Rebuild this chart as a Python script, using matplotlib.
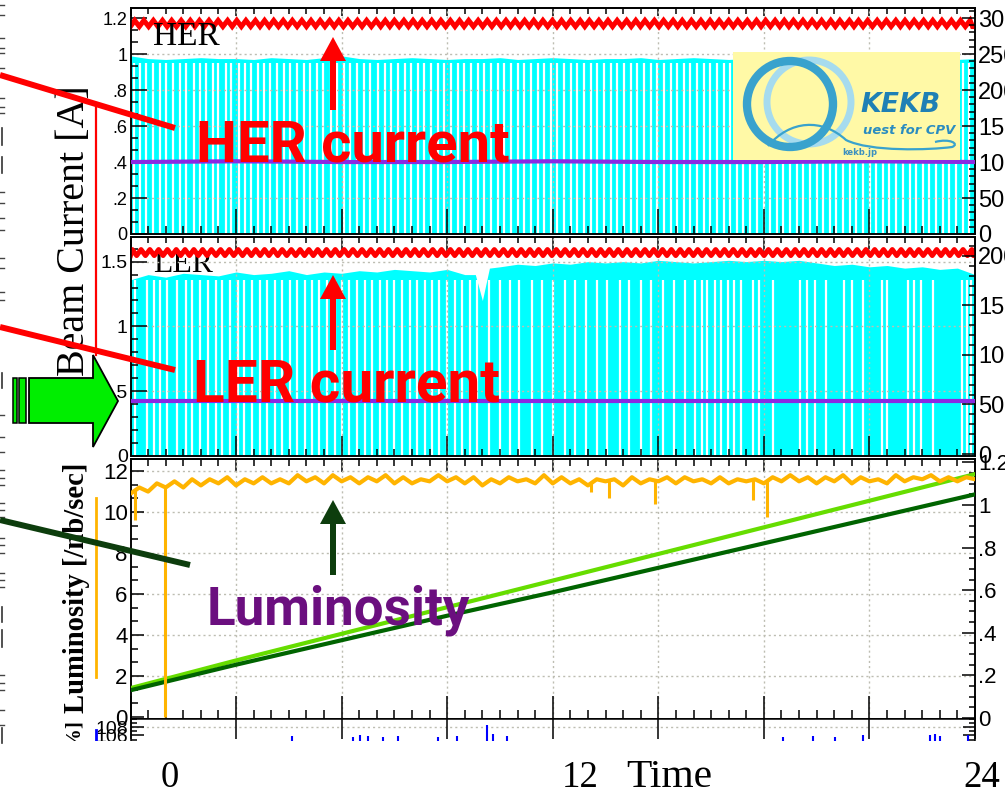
import numpy as np
import matplotlib
matplotlib.use("Agg")
import matplotlib.pyplot as plt
import matplotlib.patches as mpatches
from matplotlib.path import Path
from matplotlib.ticker import MultipleLocator, NullLocator

# ---------------- data (time axis in hours) ----------------
# HER / LER stored current: top-up injection times and band levels [A]
her_inj = [0.12, 0.38, 0.65, 0.91, 1.17, 1.44, 1.70, 1.96, 2.23, 2.49, 2.76, 3.02, 3.28, 3.55,
           3.81, 4.07, 4.34, 4.60, 4.87, 5.13, 5.39, 5.66, 5.92, 6.18, 6.45, 6.71, 6.98, 7.24,
           7.50, 7.77, 8.03, 8.29, 8.56, 8.82, 9.09, 9.35, 9.61, 9.88, 10.14, 10.40, 10.67,
           10.93, 11.20, 11.46, 11.72, 11.99, 12.25, 12.51, 12.78, 13.04, 13.31, 13.57, 13.83,
           14.10, 14.36, 14.62, 14.89, 15.15, 15.42, 15.68, 15.94, 16.21, 16.47, 16.73, 17.00,
           17.26, 17.53, 17.79, 18.05, 18.32, 18.58, 18.84, 19.11, 19.37, 19.64, 19.90, 20.16,
           20.43, 20.69, 20.95, 21.22, 21.48, 21.75, 22.01, 22.27, 22.54, 22.80, 23.06, 23.33,
           23.59, 23.86]
her_peak, her_low = 1.187, 1.153

ler_inj = [0.05, 0.30, 0.55, 0.80, 1.05, 1.30, 1.55, 1.80, 2.05, 2.30, 2.56, 2.81, 3.06, 3.31,
           3.56, 3.81, 4.06, 4.31, 4.57, 4.82, 5.07, 5.32, 5.57, 5.82, 6.07, 6.32, 6.58, 6.83,
           7.08, 7.33, 7.58, 7.83, 8.08, 8.33, 8.59, 8.84, 9.09, 9.34, 9.59, 9.84, 10.09, 10.34,
           10.60, 10.85, 11.10, 11.35, 11.60, 11.85, 12.10, 12.35, 12.61, 12.86, 13.11, 13.36,
           13.61, 13.86, 14.11, 14.36, 14.62, 14.87, 15.12, 15.37, 15.62, 15.87, 16.12, 16.37,
           16.63, 16.88, 17.13, 17.38, 17.63, 17.88, 18.13, 18.38, 18.64, 18.89, 19.14, 19.39,
           19.64, 19.89, 20.14, 20.39, 20.65, 20.90, 21.15, 21.40, 21.65, 21.90, 22.15, 22.40,
           22.66, 22.91, 23.16, 23.41, 23.66, 23.91]
ler_peak, ler_low = 1.593, 1.547

# cyan trace: upper envelope every half hour, and the dropouts (white gaps)
trace_step = 0.5
her_top = [0.99, 0.975, 0.97, 0.975, 0.98, 0.975, 0.975, 0.97, 0.98, 0.975, 0.97, 0.98, 0.99,
           0.975, 0.97, 0.975, 0.98, 0.975, 0.97, 0.975, 0.975, 0.98, 0.97, 0.975, 0.98, 0.975,
           0.97, 0.975, 0.975, 0.98, 0.97, 0.975, 0.98, 0.975, 0.97, 0.975, 0.975, 0.98, 0.975,
           0.97, 0.975, 0.98, 0.975, 0.97, 0.975, 0.98, 0.975, 0.97, 0.975]
her_gaps = [0.10, 0.28, 0.45, 0.64, 0.83, 1.01, 1.20, 1.41, 1.59, 1.80, 1.98, 2.15, 2.34, 2.49,
            2.70, 2.87, 3.07, 3.26, 3.43, 3.61, 3.80, 3.97, 4.16, 4.35, 4.54, 4.72, 4.94, 5.10,
            5.29, 5.48, 5.69, 5.88, 6.07, 6.25, 6.44, 6.63, 6.82, 7.03, 7.22, 7.41, 7.61, 7.79,
            7.98, 8.17, 8.35, 8.55, 8.73, 8.92, 9.12, 9.30, 9.49, 9.68, 9.87, 10.05, 10.25,
            10.43, 10.62, 10.81, 11.00, 11.19, 11.38, 11.57, 11.75, 11.95, 12.13, 12.32, 12.51,
            12.70, 12.89, 13.08, 13.27, 13.45, 13.65, 13.83, 14.02, 14.21, 14.40, 14.59, 14.78,
            14.97, 15.15, 15.35, 15.53, 15.72, 15.91, 16.10, 16.29, 16.48, 16.66, 16.86, 17.04,
            17.23, 17.42, 17.61, 17.80, 17.99, 18.17, 18.37, 18.55, 18.74, 18.93, 19.12, 19.31,
            19.50, 19.68, 19.88, 20.06, 20.25, 20.44, 20.63, 20.82, 21.01, 21.19, 21.39, 21.57,
            21.76, 21.95, 22.14, 22.33, 22.52, 22.70, 22.90, 23.08, 23.27, 23.46, 23.65, 23.84]
her_gap_top = 0.95

ler_top = [1.36, 1.40, 1.38, 1.41, 1.40, 1.39, 1.42, 1.40, 1.41, 1.43, 1.40, 1.42, 1.41, 1.43,
           1.42, 1.44, 1.43, 1.42, 1.44, 1.40, 1.20, 1.46, 1.48, 1.47, 1.49, 1.48, 1.50, 1.49,
           1.50, 1.49, 1.51, 1.50, 1.49, 1.50, 1.51, 1.50, 1.51, 1.50, 1.51, 1.49, 1.47, 1.48,
           1.46, 1.47, 1.45, 1.46, 1.44, 1.45, 1.40]
ler_notch_t = [9.8, 10.2]
ler_notch_v = [1.40, 1.45]
ler_gaps = [0.13, 0.47, 0.67, 0.84, 1.03, 1.32, 1.58, 1.76, 1.98, 2.20, 2.42, 2.60, 2.83, 3.05,
            3.22, 3.46, 3.68, 3.87, 4.10, 4.31, 4.52, 4.73, 4.95, 5.15, 5.37, 5.58, 5.80, 6.02,
            6.21, 6.45, 6.66, 6.86, 7.08, 7.30, 7.50, 7.72, 7.93, 8.15, 8.36, 8.57, 8.78, 9.00,
            9.21, 9.43, 9.65, 9.86, 10.20, 10.50, 10.78, 11.05, 11.40, 11.70, 12.00, 12.35,
            12.62, 12.95, 13.25, 13.55, 13.90, 14.18, 14.50, 14.80, 15.12, 15.45, 15.75, 16.05,
            16.24, 16.38, 16.61, 16.78, 16.98, 17.15, 17.35, 17.69, 17.86, 18.25, 19.02, 19.22,
            19.45, 19.76, 20.27, 20.50, 20.81, 21.35, 21.49, 22.09, 22.26, 22.46, 22.80, 23.62,
            23.76, 23.90]
ler_gap_top = 1.36

# purple trace (right-hand scale)
aux_t = [0, 3, 6, 9, 12, 15, 18, 21, 24]
her_aux = [100, 101, 100, 100, 101, 100, 100, 101, 100]
ler_aux = [53, 53, 53, 53, 53, 53, 53, 53, 53]

# luminosity [/nb/sec], every quarter hour, plus short dips
lumi_step = 0.25
lumi = [10.9, 11.2, 11.0, 11.4, 11.2, 11.5, 11.2, 11.6, 11.3, 11.6,
        11.4, 11.7, 11.3, 11.6, 11.4, 11.7, 11.4, 11.6, 11.4, 11.8,
        11.5, 11.7, 11.4, 11.8, 11.5, 11.7, 11.4, 11.7, 11.5, 11.8,
        11.4, 11.7, 11.4, 11.6, 11.5, 11.8, 11.5, 11.7, 11.4, 11.7,
        11.3, 11.6, 11.4, 11.7, 11.5, 11.6, 11.4, 11.8, 11.4, 11.7,
        11.4, 11.6, 11.3, 11.6, 11.5, 11.6, 11.3, 11.7, 11.4, 11.6,
        11.5, 11.7, 11.4, 11.7, 11.5, 11.6, 11.4, 11.7, 11.4, 11.6,
        11.5, 11.6, 11.4, 11.7, 11.5, 11.8, 11.5, 11.7, 11.4, 11.7,
        11.5, 11.8, 11.4, 11.7, 11.5, 11.6, 11.4, 11.8, 11.5, 11.7,
        11.6, 11.8, 11.5, 11.7, 11.5, 11.7, 11.6]
lumi_dip_t = [0.14, 0.98, 13.1, 13.6, 14.9, 17.7, 18.1]
lumi_dip_v = [9.6, 0.0, 11.0, 10.7, 10.4, 10.6, 9.75]

# integrated luminosity (right-hand scale)
int_t = [0, 3, 6, 9, 12, 15, 18, 21, 24]
int_delivered = [0.14, 0.27, 0.395, 0.52, 0.645, 0.77, 0.895, 1.02, 1.145]
int_recorded = [0.13, 0.25, 0.365, 0.48, 0.59, 0.705, 0.82, 0.935, 1.05]

# bottom strip: blue spikes
loss_t = [4.59, 6.33, 6.53, 6.75, 7.17, 7.60, 8.74, 9.28, 10.13, 10.30, 10.70, 18.54, 19.39,
          20.02, 20.81, 22.71, 22.86, 23.00, 23.79]
loss_v = [105.8, 105.6, 106.2, 105.8, 105.6, 105.9, 105.6, 105.9, 108.5, 106.3, 105.8, 105.6,
          105.9, 105.7, 106.0, 106.2, 106.3, 105.9, 106.0]

time_labels = ["0", "12", "24"]

# ---------------- figure ----------------
W, H = 1005, 793
plt.rcParams["font.family"] = ["Liberation Sans", "DejaVu Sans"]
fig = plt.figure(figsize=(W / 100, H / 100), dpi=100)
fig.patch.set_facecolor("white")

SANS = ["Liberation Sans", "DejaVu Sans"]
NARROW = ["Liberation Sans Narrow", "Liberation Sans", "DejaVu Sans"]
SERIF = ["Liberation Serif", "DejaVu Serif"]
GRID = "#bdbdb2"
LW = 1.1


def frame(l, t, r, b):
    return [l / W, 1 - b / H, (r - l) / W, (b - t) / H]


def zigzag(inj, peak, low):
    xs, ys = [0.0], [low]
    for i, t in enumerate(inj):
        xs.append(t)
        ys.append(peak)
        nxt = inj[i + 1] if i + 1 < len(inj) else 24.0
        xs.append(0.5 * (t + nxt))
        ys.append(low)
    xs.append(24.0)
    ys.append(low)
    return xs, ys


def setup_x(ax, bottom, top):
    ax.set_axisbelow(False)
    ax.set_xlim(0, 24)
    ax.xaxis.set_major_locator(MultipleLocator(3))
    ax.xaxis.set_minor_locator(MultipleLocator(0.5))
    if bottom:
        ax.tick_params(axis="x", which="major", direction="in", bottom=True, top=False,
                       length=bottom[0], width=LW, labelbottom=False)
        ax.tick_params(axis="x", which="minor", direction="in", bottom=True, top=False,
                       length=bottom[1], width=LW)
    else:
        ax.tick_params(axis="x", which="both", bottom=False, top=False, labelbottom=False)
    if top:
        sec = ax.secondary_xaxis("top")
        sec.xaxis.set_major_locator(MultipleLocator(3))
        if top[1]:
            sec.xaxis.set_minor_locator(MultipleLocator(0.5))
        else:
            sec.xaxis.set_minor_locator(NullLocator())
        sec.tick_params(axis="x", which="major", direction="in", length=top[0], width=LW,
                        labeltop=False)
        sec.tick_params(axis="x", which="minor", direction="in", length=top[1], width=LW)
        for s in sec.spines.values():
            s.set_linewidth(LW)


def setup_y(ax, lim, ticks, labels, minor, size, family, lens, side):
    ax.set_axisbelow(False)
    ax.set_ylim(*lim)
    ax.set_yticks(ticks, labels=labels, fontsize=size, fontfamily=family)
    ax.yaxis.set_minor_locator(MultipleLocator(minor))
    left = side == "left"
    ax.tick_params(axis="y", which="both", direction="in", left=left, right=not left,
                   labelleft=left, labelright=not left, width=LW, pad=2)
    ax.tick_params(axis="y", which="major", length=lens[0])
    ax.tick_params(axis="y", which="minor", length=lens[1])


def grid(ax, ys):
    for y in ys:
        ax.axhline(y, color=GRID, lw=1.0, ls=(0, (1.5, 2.2)), zorder=2)
    for x in [3, 6, 9, 12, 15, 18, 21]:
        ax.axvline(x, color=GRID, lw=1.0, ls=(0, (1.5, 2.2)), zorder=2)


# ---- panel 1 : HER ----
ax1 = fig.add_axes(frame(130.5, 8, 975, 234))
ax1r = ax1.twinx()
setup_x(ax1, (18, 5.8), (5.8, 4.3))
setup_y(ax1, (0, 1.256), [0, .2, .4, .6, .8, 1, 1.2], ["0", ".2", ".4", ".6", ".8", "1", "1.2"],
        0.2 / 3, 13, SANS, (11.5, 5), "left")
setup_y(ax1r, (0, 314), [0, 50, 100, 150, 200, 250, 300],
        ["0", "50", "100", "150", "200", "250", "300"], 10, 17, SANS, (9.4, 4.3), "right")
tt = np.arange(len(her_top)) * trace_step
ax1.fill_between(tt, 0, her_top, color="#00ffff", lw=0, zorder=1)
ax1.vlines(her_gaps, 0, her_gap_top, colors="white", lw=1.6, zorder=1.5)
grid(ax1, [.2, .4, .6, .8, 1.0])
hx, hy = zigzag(her_inj, her_peak, her_low)
ax1.plot(hx, hy, color="#ff0000", lw=3.6, zorder=3, solid_joinstyle="miter")
ax1r.plot(aux_t, her_aux, color="#8a2be2", lw=3.0, zorder=3)
ax1r.set_xlim(0, 24)

# ---- panel 2 : LER ----
ax2 = fig.add_axes(frame(130.5, 237, 975, 456))
ax2r = ax2.twinx()
setup_x(ax2, (14.4, 5), (13, 4.3))
setup_y(ax2, (0, 1.69), [0, .5, 1, 1.5], ["0", ".5", "1", "1.5"], 0.1, 14, SANS, (11.5, 5), "left")
setup_y(ax2r, (-2, 219), [0, 50, 100, 150, 200], ["0", "50", "100", "150", "200"], 10, 17,
        SANS, (9.4, 4.3), "right")
env_t = np.concatenate([np.arange(len(ler_top)) * trace_step, ler_notch_t])
env_v = np.concatenate([ler_top, ler_notch_v])
order = np.argsort(env_t, kind="stable")
ax2.fill_between(env_t[order], 0, env_v[order], color="#00ffff", lw=0, zorder=1)
ax2.vlines(ler_gaps, 0, ler_gap_top, colors="white", lw=1.6, zorder=1.5)
grid(ax2, [.5, 1.0, 1.5])
lx, ly = zigzag(ler_inj, ler_peak, ler_low)
ax2.plot(lx, ly, color="#ff0000", lw=3.6, zorder=3)
ax2r.plot(aux_t, ler_aux, color="#8a2be2", lw=3.0, zorder=3)
ax2r.set_xlim(0, 24)

# ---- panel 3 : luminosity ----
ax3 = fig.add_axes(frame(130.5, 459, 975, 719))
ax3r = ax3.twinx()
setup_x(ax3, (16.6, 6.5), (9.4, 5))
setup_y(ax3, (-0.1, 12.59), [0, 2, 4, 6, 8, 10, 12], ["0", "2", "4", "6", "8", "10", "12"],
        2 / 3, 16, NARROW, (9.4, 5), "left")
setup_y(ax3r, (-0.005, 1.216), [0, .2, .4, .6, .8, 1, 1.2],
        ["0", ".2", ".4", ".6", ".8", "1", "1.2"], 0.05, 16, SANS, (9.4, 4.3), "right")
grid(ax3, [2, 4, 6, 8, 10, 12])
ax3r.plot(int_t, int_delivered, color="#66dd00", lw=3.0, zorder=3)
ax3r.plot(int_t, int_recorded, color="#006400", lw=3.0, zorder=3)
lt = np.arange(len(lumi)) * lumi_step
ax3r.plot(lt, lumi, color="#ffb400", lw=3.0, zorder=4, transform=ax3.transData)
base = np.interp(lumi_dip_t, lt, lumi)
ax3r.vlines(lumi_dip_t, lumi_dip_v, base, colors="#ffb400", lw=2.2, zorder=4,
            transform=ax3.transData)
ax3r.set_xlim(0, 24)
ax3r.set_ylim(-0.005, 1.216)

# ---- panel 4 : strip below ----
ax4 = fig.add_axes(frame(130.5, 719, 975, 760))
ax4.set_axisbelow(False)
ax4.set_xlim(0, 24)
ax4.set_ylim(100, 110)
ax4.xaxis.set_major_locator(MultipleLocator(3))
ax4.xaxis.set_minor_locator(NullLocator())
ax4.tick_params(axis="x", which="major", direction="in", top=True, bottom=False, length=14.4,
                width=LW, labelbottom=False)
ax4.set_yticks([108, 106], labels=["108", "106"], fontsize=14, fontfamily=NARROW)
ax4.yaxis.set_minor_locator(MultipleLocator(1.0))
ax4.tick_params(axis="y", which="both", direction="in", left=True, right=True, width=LW, pad=2)
ax4.tick_params(axis="y", which="major", length=9)
ax4.tick_params(axis="y", which="minor", length=4)
ax4.spines["bottom"].set_visible(False)
ax4.axhline(108, color=GRID, lw=1.0, ls=(0, (1.5, 2.2)), zorder=2)
ax4.vlines(loss_t, 100, loss_v, colors="#0000ff", lw=1.5, zorder=3)

for ax in (ax1, ax1r, ax2, ax2r, ax3, ax3r, ax4):
    for s in ax.spines.values():
        s.set_linewidth(LW)

# ---------------- slide overlay (pixel coordinates) ----------------
ov = fig.add_axes([0, 0, 1, 1])
ov.set_xlim(0, W)
ov.set_ylim(H, 0)
ov.axis("off")
ov.patch.set_visible(False)
ov.set_zorder(20)
renderer = fig.canvas.get_renderer()


def fit(txt, target, dim="width"):
    bb = txt.get_window_extent(renderer=renderer)
    cur = bb.width if dim == "width" else bb.height
    txt.set_fontsize(txt.get_fontsize() * target / cur)
    return txt


# white band under the plot frame
ov.add_patch(mpatches.Rectangle((0, 741), W, H - 741, fc="white", ec="none", zorder=1))

# fragments of text at the left edge
edge_dash_y = [5, 15, 38, 48, 53, 68, 98, 107, 113, 192, 203, 218, 230, 258, 268, 292, 300,
               415, 437, 452, 470, 478, 485, 503, 510, 517, 538, 545, 553, 573, 580, 587, 675,
               683, 690, 710, 725]
edge_bars = [(128, 145), (157, 173), (373, 388), (607, 622), (630, 647), (728, 743)]
for y in edge_dash_y:
    ov.plot([0, 4], [y, y], color="#444444", lw=1.0, zorder=2)
for y0, y1 in edge_bars:
    ov.plot([1.5, 1.5], [y0, y1], color="#333333", lw=1.2, zorder=2)

# axis titles
fit(ov.text(75, 231, "Beam Current [A]", rotation=90, ha="center", va="center",
            family=SERIF, fontsize=24, zorder=3), 292, "height")
fit(ov.text(76, 588, "Luminosity [/nb/sec]", rotation=90, ha="center", va="center",
            family=SERIF, weight="bold", fontsize=18, zorder=3), 250, "height")
ov.text(74, 719, "[%]", rotation=90, ha="center", va="top", family=SERIF, weight="bold",
        fontsize=15, zorder=0.5)
ov.plot([96, 96], [107, 355], color="#ff0000", lw=1.6, zorder=3)
ov.plot([96, 96], [498, 677], color="#ffb400", lw=2.0, zorder=3)
ov.plot([96, 96], [730, 745], color="#0000ff", lw=2.0, zorder=0.5)

# ring labels inside the panels
fit(ov.text(153, 45, "HER", ha="left", va="baseline", family=SERIF, fontsize=19, zorder=3), 67)
fit(ax2.text(153, 272, "LER", ha="left", va="baseline", family=SERIF, fontsize=19,
             zorder=0.5, transform=ov.transData), 60)

# time labels
for s, x in zip(time_labels, [170, 580, 982]):
    ov.text(x, 787, s, ha="center", va="baseline", family=SERIF, fontsize=26.5, zorder=3)
fit(ov.text(626, 787, "Time", ha="left", va="baseline", family=SERIF, fontsize=27, zorder=3), 86)

# callout lines and arrows
ov.plot([0, 175], [75, 128], color="#ff0000", lw=4.3, solid_capstyle="butt", zorder=4)
ov.plot([0, 175], [327, 370], color="#ff0000", lw=4.3, solid_capstyle="butt", zorder=4)
ov.plot([0, 190], [520, 565], color="#0d3d0d", lw=4.3, solid_capstyle="butt", zorder=4)
for x, y0, y1, c in [(333, 110, 37, "#ff0000"), (333, 350, 275, "#ff0000"),
                     (333, 575, 500, "#0d3d0d")]:
    ov.add_patch(mpatches.FancyArrow(x, y0, 0, y1 - y0, width=6, head_width=26, head_length=24,
                                     length_includes_head=True, color=c, lw=0, zorder=4))

fit(ov.text(196, 162, "HER current", ha="left", va="baseline", family=["Roboto", "DejaVu Sans"],
            weight="bold", color="#ff0000", fontsize=38, zorder=5), 314)
fit(ov.text(193, 402, "LER current", ha="left", va="baseline", family=["Roboto", "DejaVu Sans"],
            weight="bold", color="#ff0000", fontsize=38, zorder=5), 307)
fit(ov.text(207, 625, "Luminosity", ha="left", va="baseline", family=["Roboto", "DejaVu Sans"],
            weight="bold", color="#6b0f7f", fontsize=38, zorder=5), 263)

# block arrow on the left
ov.add_patch(mpatches.Polygon([(29, 378), (93, 378), (93, 355), (118, 401), (93, 447),
                               (93, 423), (29, 423)], closed=True, fc="#00ee00", ec="black",
                              lw=1.3, zorder=4))
for x0, x1 in [(13, 17), (19, 26)]:
    ov.add_patch(mpatches.Rectangle((x0, 378), x1 - x0, 45, fc="#00ee00", ec="black", lw=1.1,
                                    zorder=4))

# KEKB logo
ov.add_patch(mpatches.Rectangle((733, 52), 227, 108, fc="#fff9a6", ec="none", zorder=6))
ov.add_patch(mpatches.Circle((809, 102), 42, fill=False, ec="#a6dbee", lw=5.0, zorder=7))
ov.add_patch(mpatches.Circle((790, 104), 43, fill=False, ec="#39a2cd", lw=6.0, zorder=8))
swoosh = Path([(768, 146), (790, 120), (822, 118), (846, 140),
               (870, 152), (930, 150), (952, 147), (960, 144), (950, 138), (935, 142)],
              [Path.MOVETO, Path.CURVE4, Path.CURVE4, Path.CURVE4,
               Path.CURVE4, Path.CURVE4, Path.CURVE4, Path.CURVE4, Path.CURVE4, Path.CURVE4])
ov.add_patch(mpatches.PathPatch(swoosh, fill=False, ec="#39a2cd", lw=1.6, zorder=9))
fit(ov.text(860, 112, "KEKB", ha="left", va="baseline", family=["DejaVu Sans"], weight="bold",
            style="italic", color="#1f80b5", fontsize=22, zorder=10), 80)
fit(ov.text(863, 134, "uest for CPV", ha="left", va="baseline", family=["DejaVu Sans"],
            weight="bold", style="italic", color="#2a8cc0", fontsize=12, zorder=10), 92)
ov.text(860, 155, "kekb.jp", ha="center", va="baseline", family=["DejaVu Sans"], weight="bold",
        color="#3b8fc0", fontsize=6, zorder=10)

fig.savefig("out.png", dpi=100, facecolor="white")
